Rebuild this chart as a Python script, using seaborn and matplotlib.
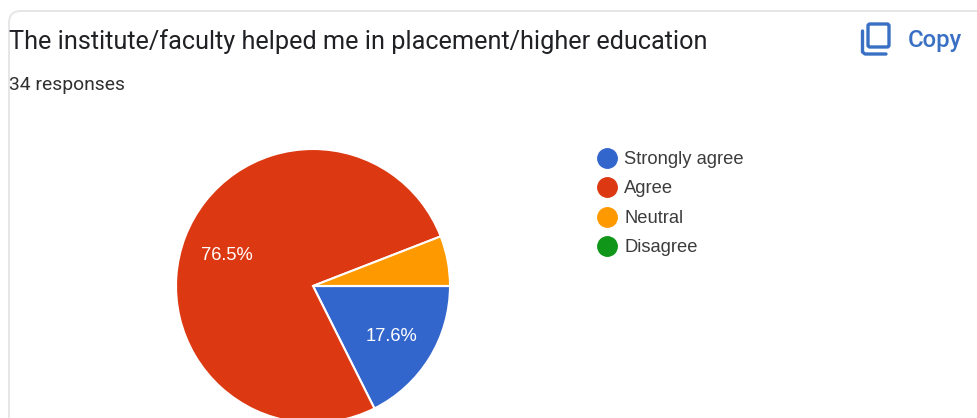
import matplotlib
matplotlib.use("Agg")
import matplotlib.pyplot as plt
from matplotlib.lines import Line2D
from matplotlib.patches import FancyBboxPatch
import seaborn as sns

TITLE = "The institute/faculty helped me in placement/higher education"
SUBTITLE = "34 responses"
categories = ["Strongly agree", "Agree", "Neutral", "Disagree"]
values = [17.6, 76.5, 5.9, 0.0]
colors = ["#3366CC", "#DC3912", "#FF9900", "#109618"]

sns.set_theme(style="white")
sns.set_palette(sns.color_palette(colors))
plt.rcParams["font.family"] = ["Liberation Sans", "DejaVu Sans"]

W, H = 977, 418
fig = plt.figure(figsize=(W / 100, H / 100), dpi=100, facecolor="white")
ax = fig.add_axes([0, 0, 1, 1])

def py(y):
    return H - y

wedges, texts, autotexts = ax.pie(
    values,
    colors=sns.color_palette(),
    center=(313, py(286)),
    radius=137,
    startangle=0,
    counterclock=False,
    autopct=lambda p: f"{p:.1f}%" if p >= 10 else "",
    pctdistance=0.67,
    wedgeprops={"edgecolor": "white", "linewidth": 1.5},
    textprops={"color": "white", "fontsize": 13.2},
)
for t in autotexts:
    x, y = t.get_position()
    t.set_position((x, y - 2))
ax.set_xlim(0, W)
ax.set_ylim(0, H)
ax.set_aspect("auto")
ax.axis("off")

# card outline
card = FancyBboxPatch((9, -40), W + 40, py(11) + 40,
                      boxstyle="round,pad=0,rounding_size=12",
                      fc="none", ec="#e6e6e6", lw=1.4, zorder=0)
ax.add_patch(card)

ax.text(9, py(42), TITLE, family="Roboto", fontsize=18.2, color="#202124",
        va="center", ha="left")
ax.text(9, py(85), SUBTITLE, family="Roboto", fontsize=13.9, color="#303030",
        va="center", ha="left")

# copy control
blue = "#3A70C4"
ax.add_patch(FancyBboxPatch((868, py(47)), 21, 23,
                            boxstyle="round,pad=0,rounding_size=2",
                            fc="none", ec=blue, lw=2.4))
ax.plot([862.5, 862.5, 865, 886], [py(31), py(52), py(54), py(54)],
        color=blue, lw=2.4, solid_capstyle="round")
ax.text(908, py(40), "Copy", family="Roboto", fontsize=17.2, color=blue,
        fontweight="medium", va="center", ha="left")

handles = [Line2D([], [], marker="o", ls="", ms=14, mfc=c, mec=c)
           for c in sns.color_palette()]
leg = ax.legend(handles, categories, frameon=False, loc="upper left",
                bbox_to_anchor=(594 / W, py(151) / H), borderaxespad=0,
                borderpad=0, labelspacing=0.68, handletextpad=0.25,
                handlelength=1.4, fontsize=13.2, labelcolor="#3c3c3c")

fig.savefig("out.png", dpi=100, facecolor="white")
